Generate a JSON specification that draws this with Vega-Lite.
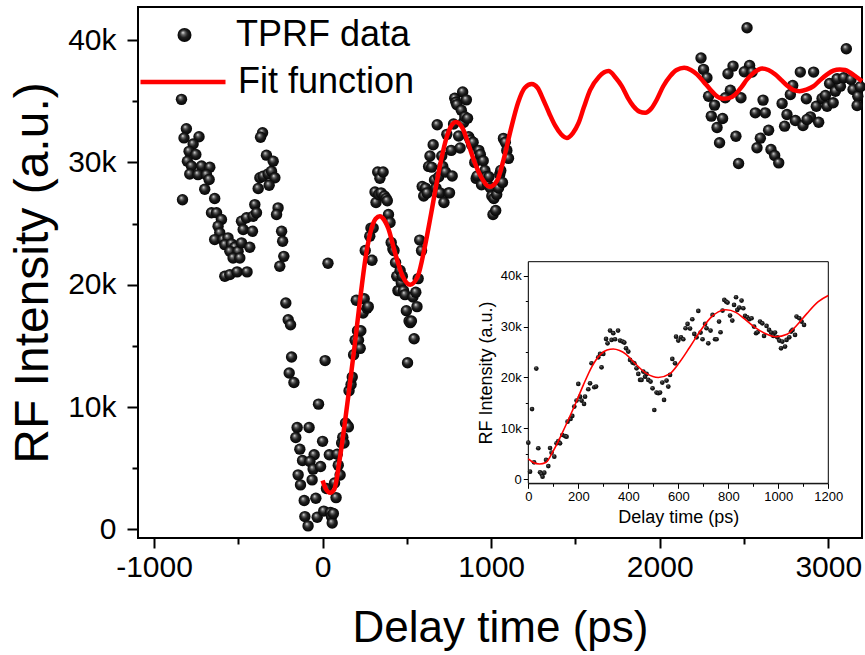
{
  "$schema": "https://vega.github.io/schema/vega-lite/v6.json",
  "width": 724,
  "height": 531,
  "autosize": "none",
  "padding": {"left": 138, "top": 7, "right": 3, "bottom": 117},
  "background": "white",
  "config": {
    "view": {"stroke": "black", "strokeWidth": 2, "fill": "white"},
    "font": "Liberation Sans",
    "axis": {"labelColor": "black", "titleColor": "black", "titleFontWeight": "normal", "labelFont": "Liberation Sans", "titleFont": "Liberation Sans", "grid": false, "tickColor": "black", "domainColor": "black"},
    "legend": {"labelFont": "Liberation Sans", "labelColor": "black", "labelFontSize": 36, "labelLimit": 400, "padding": 0, "orient": "none"}
  },
  "datasets": {
    "tprf": [
      {"x": -837, "y": 35150}, {"x": -808, "y": 32750}, {"x": -822, "y": 32000}, {"x": -733, "y": 32100}, {"x": -768, "y": 31500},
      {"x": -792, "y": 30900}, {"x": -752, "y": 30650}, {"x": -802, "y": 30100}, {"x": -778, "y": 29700}, {"x": -718, "y": 29700},
      {"x": -669, "y": 29600}, {"x": -788, "y": 29050}, {"x": -739, "y": 29000}, {"x": -689, "y": 29000}, {"x": -673, "y": 28600},
      {"x": -699, "y": 27800}, {"x": -831, "y": 26950}, {"x": -640, "y": 27050}, {"x": -659, "y": 25880}, {"x": -629, "y": 25880},
      {"x": -600, "y": 25330}, {"x": -620, "y": 24780}, {"x": -610, "y": 24240}, {"x": -640, "y": 23690}, {"x": -590, "y": 23690},
      {"x": -561, "y": 23830}, {"x": -580, "y": 23280}, {"x": -540, "y": 23340}, {"x": -520, "y": 23060}, {"x": -550, "y": 22730},
      {"x": -501, "y": 22730}, {"x": -481, "y": 23420}, {"x": -432, "y": 23060}, {"x": -531, "y": 22190}, {"x": -491, "y": 22190},
      {"x": -580, "y": 20690}, {"x": -550, "y": 20830}, {"x": -507, "y": 21050}, {"x": -448, "y": 21050}, {"x": -481, "y": 25190},
      {"x": -451, "y": 25470}, {"x": -412, "y": 25600}, {"x": -471, "y": 24510}, {"x": -416, "y": 24370}, {"x": -402, "y": 26550},
      {"x": -392, "y": 25880}, {"x": -382, "y": 27870}, {"x": -372, "y": 28740}, {"x": -353, "y": 28870}, {"x": -323, "y": 29060},
      {"x": -303, "y": 29280}, {"x": -283, "y": 28740}, {"x": -317, "y": 28130}, {"x": -333, "y": 30590}, {"x": -293, "y": 30100},
      {"x": -356, "y": 32420}, {"x": -368, "y": 32060}, {"x": -264, "y": 26280}, {"x": -273, "y": 25740}, {"x": -243, "y": 24370},
      {"x": -237, "y": 23550}, {"x": -230, "y": 22320}, {"x": -254, "y": 21510}, {"x": -218, "y": 18510}, {"x": -204, "y": 17140},
      {"x": -190, "y": 16730}, {"x": -184, "y": 14090}, {"x": -198, "y": 12780}, {"x": -170, "y": 12010}, {"x": -24, "y": 10240},
      {"x": -151, "y": 8330}, {"x": -80, "y": 8330}, {"x": -159, "y": 7510}, {"x": -135, "y": 6560}, {"x": -50, "y": 6100},
      {"x": -119, "y": 5630}, {"x": -75, "y": 5550}, {"x": -56, "y": 4930}, {"x": -12, "y": 5140}, {"x": -145, "y": 4460},
      {"x": -131, "y": 3640}, {"x": -62, "y": 4050}, {"x": -109, "y": 2360}, {"x": -40, "y": 2550}, {"x": -105, "y": 1050},
      {"x": -86, "y": 290}, {"x": -32, "y": 1000},
      {"x": 0, "y": 7200}, {"x": 7, "y": 1500}, {"x": 15, "y": 13800}, {"x": 32, "y": 21750}, {"x": 40, "y": 6100},
      {"x": 23, "y": 3340}, {"x": 47, "y": 1380}, {"x": 53, "y": 1050}, {"x": 57, "y": 520}, {"x": 64, "y": 1300},
      {"x": 71, "y": 3800}, {"x": 80, "y": 2600}, {"x": 87, "y": 6150}, {"x": 93, "y": 5240}, {"x": 104, "y": 4450},
      {"x": 113, "y": 7070}, {"x": 120, "y": 7530}, {"x": 127, "y": 7070}, {"x": 136, "y": 8700}, {"x": 147, "y": 8500},
      {"x": 153, "y": 8380}, {"x": 157, "y": 11330}, {"x": 169, "y": 11850}, {"x": 176, "y": 12450}, {"x": 184, "y": 14280},
      {"x": 193, "y": 15460}, {"x": 200, "y": 18730}, {"x": 207, "y": 16240}, {"x": 213, "y": 15460}, {"x": 223, "y": 14800},
      {"x": 227, "y": 16240}, {"x": 240, "y": 17690}, {"x": 247, "y": 18860}, {"x": 253, "y": 22800}, {"x": 264, "y": 18080},
      {"x": 271, "y": 18210}, {"x": 280, "y": 23970}, {"x": 287, "y": 24630}, {"x": 293, "y": 22000}, {"x": 300, "y": 24630},
      {"x": 311, "y": 27580}, {"x": 317, "y": 26720}, {"x": 327, "y": 29210}, {"x": 333, "y": 27380}, {"x": 340, "y": 28700},
      {"x": 347, "y": 27510}, {"x": 359, "y": 29210}, {"x": 367, "y": 27250}, {"x": 377, "y": 27050}, {"x": 384, "y": 26860},
      {"x": 391, "y": 25740}, {"x": 400, "y": 25090}, {"x": 407, "y": 23450}, {"x": 417, "y": 22930}, {"x": 424, "y": 22790},
      {"x": 433, "y": 21810}, {"x": 440, "y": 20700}, {"x": 447, "y": 19520}, {"x": 453, "y": 19520}, {"x": 460, "y": 21160},
      {"x": 467, "y": 20170}, {"x": 473, "y": 20700}, {"x": 480, "y": 19520}, {"x": 489, "y": 19190}, {"x": 497, "y": 17880},
      {"x": 504, "y": 13620}, {"x": 513, "y": 17030}, {"x": 520, "y": 16900}, {"x": 527, "y": 17030}, {"x": 536, "y": 19000},
      {"x": 543, "y": 15590}, {"x": 553, "y": 19390}, {"x": 560, "y": 18210}, {"x": 567, "y": 20500}, {"x": 576, "y": 23650},
      {"x": 587, "y": 22790}, {"x": 591, "y": 28030}, {"x": 600, "y": 27250}, {"x": 611, "y": 27900}, {"x": 620, "y": 27510},
      {"x": 629, "y": 29670}, {"x": 637, "y": 30520}, {"x": 647, "y": 29610}, {"x": 656, "y": 31440}, {"x": 664, "y": 28560},
      {"x": 673, "y": 27900}, {"x": 680, "y": 33080}, {"x": 689, "y": 28820}, {"x": 697, "y": 27510}, {"x": 707, "y": 30520},
      {"x": 713, "y": 29670}, {"x": 720, "y": 26720}, {"x": 729, "y": 29210}, {"x": 737, "y": 32290}, {"x": 747, "y": 27510},
      {"x": 753, "y": 27510}, {"x": 763, "y": 30980}, {"x": 769, "y": 28890}, {"x": 777, "y": 33140}, {"x": 784, "y": 35240},
      {"x": 791, "y": 34910}, {"x": 797, "y": 34720}, {"x": 807, "y": 32160}, {"x": 816, "y": 31180}, {"x": 823, "y": 34260},
      {"x": 831, "y": 35760}, {"x": 836, "y": 33270}, {"x": 844, "y": 33730}, {"x": 853, "y": 35110}, {"x": 860, "y": 33600},
      {"x": 867, "y": 32100}, {"x": 876, "y": 31830}, {"x": 884, "y": 31440}, {"x": 893, "y": 31640}, {"x": 903, "y": 30000},
      {"x": 911, "y": 28690}, {"x": 917, "y": 28890}, {"x": 927, "y": 30980}, {"x": 936, "y": 30650}, {"x": 943, "y": 28170},
      {"x": 953, "y": 30130}, {"x": 963, "y": 29340}, {"x": 971, "y": 28820}, {"x": 980, "y": 28170}, {"x": 987, "y": 28820},
      {"x": 996, "y": 27900}, {"x": 1004, "y": 27250}, {"x": 1011, "y": 25740}, {"x": 1016, "y": 27050}, {"x": 1027, "y": 26070},
      {"x": 1033, "y": 27380}, {"x": 1044, "y": 27900}, {"x": 1051, "y": 29020}, {"x": 1057, "y": 29340}, {"x": 1067, "y": 28360},
      {"x": 1073, "y": 31960}, {"x": 1084, "y": 31640}, {"x": 1093, "y": 30980}, {"x": 1103, "y": 30330},
      {"x": 2518, "y": 41000}, {"x": 2245, "y": 38530}, {"x": 2260, "y": 37600}, {"x": 2280, "y": 36920}, {"x": 2435, "y": 37870},
      {"x": 2405, "y": 37250}, {"x": 2533, "y": 37920}, {"x": 2502, "y": 37410}, {"x": 2548, "y": 37380}, {"x": 2419, "y": 35900},
      {"x": 2389, "y": 35280}, {"x": 2290, "y": 35410}, {"x": 2325, "y": 34680}, {"x": 2482, "y": 35280}, {"x": 2306, "y": 33780},
      {"x": 2373, "y": 33590}, {"x": 2340, "y": 32850}, {"x": 2355, "y": 31600}, {"x": 2452, "y": 32140}, {"x": 2468, "y": 29910},
      {"x": 2613, "y": 35090}, {"x": 2567, "y": 34050}, {"x": 2626, "y": 34050}, {"x": 2646, "y": 32630}, {"x": 2597, "y": 31980},
      {"x": 2577, "y": 31190}, {"x": 2660, "y": 31050}, {"x": 2682, "y": 30560}, {"x": 2706, "y": 29960}, {"x": 2726, "y": 34810},
      {"x": 2789, "y": 36290}, {"x": 2775, "y": 35550}, {"x": 2755, "y": 33910}, {"x": 2741, "y": 32960}, {"x": 2805, "y": 33420},
      {"x": 2850, "y": 33010}, {"x": 2894, "y": 33720}, {"x": 2874, "y": 33510}, {"x": 2943, "y": 33280}, {"x": 2834, "y": 37380},
      {"x": 2913, "y": 37380}, {"x": 2870, "y": 35200}, {"x": 2929, "y": 34590}, {"x": 2963, "y": 35220}, {"x": 2983, "y": 35470},
      {"x": 2993, "y": 34590}, {"x": 3029, "y": 34870}, {"x": 3008, "y": 36450}, {"x": 3042, "y": 35820}, {"x": 3072, "y": 36230},
      {"x": 3052, "y": 36830}, {"x": 3092, "y": 36920}, {"x": 3107, "y": 39290}, {"x": 3135, "y": 36780}, {"x": 3147, "y": 35960},
      {"x": 3175, "y": 35410}, {"x": 3171, "y": 34650}, {"x": 3190, "y": 36180}
    ],
    "fit": [
      {"x": 0, "y": 4000}, {"x": 20, "y": 3300}, {"x": 45, "y": 3000}, {"x": 70, "y": 3300}, {"x": 100, "y": 5600},
      {"x": 130, "y": 8500}, {"x": 160, "y": 11700}, {"x": 190, "y": 15000}, {"x": 220, "y": 18500}, {"x": 255, "y": 22200},
      {"x": 290, "y": 24600}, {"x": 315, "y": 25400}, {"x": 340, "y": 25600}, {"x": 365, "y": 25300}, {"x": 390, "y": 24600},
      {"x": 430, "y": 22600}, {"x": 475, "y": 20700}, {"x": 520, "y": 20000}, {"x": 565, "y": 20700}, {"x": 605, "y": 23000},
      {"x": 645, "y": 25900}, {"x": 690, "y": 29300}, {"x": 735, "y": 32000}, {"x": 760, "y": 32900}, {"x": 790, "y": 33300},
      {"x": 830, "y": 32800}, {"x": 865, "y": 31500}, {"x": 905, "y": 29900}, {"x": 945, "y": 28700}, {"x": 990, "y": 28000},
      {"x": 1035, "y": 28500}, {"x": 1075, "y": 30300}, {"x": 1115, "y": 32600}, {"x": 1160, "y": 34900}, {"x": 1200, "y": 36100},
      {"x": 1241, "y": 36400}, {"x": 1275, "y": 36100}, {"x": 1310, "y": 35100}, {"x": 1345, "y": 34000}, {"x": 1380, "y": 33000},
      {"x": 1415, "y": 32300}, {"x": 1449, "y": 32000}, {"x": 1485, "y": 32400}, {"x": 1518, "y": 33200}, {"x": 1550, "y": 34500},
      {"x": 1587, "y": 35900}, {"x": 1640, "y": 37000}, {"x": 1696, "y": 37460}, {"x": 1740, "y": 36900}, {"x": 1775, "y": 36230},
      {"x": 1810, "y": 35300}, {"x": 1844, "y": 34590}, {"x": 1880, "y": 34150}, {"x": 1914, "y": 34050}, {"x": 1950, "y": 34400},
      {"x": 1983, "y": 35140}, {"x": 2020, "y": 36200}, {"x": 2062, "y": 37050}, {"x": 2100, "y": 37550}, {"x": 2145, "y": 37730},
      {"x": 2185, "y": 37550}, {"x": 2221, "y": 37190}, {"x": 2260, "y": 36600}, {"x": 2300, "y": 35960}, {"x": 2340, "y": 35400},
      {"x": 2375, "y": 35200}, {"x": 2410, "y": 35250}, {"x": 2448, "y": 35550}, {"x": 2485, "y": 36150}, {"x": 2518, "y": 36780},
      {"x": 2560, "y": 37350}, {"x": 2607, "y": 37680}, {"x": 2645, "y": 37550}, {"x": 2686, "y": 37190}, {"x": 2720, "y": 36750},
      {"x": 2755, "y": 36290}, {"x": 2795, "y": 35900}, {"x": 2830, "y": 35820}, {"x": 2870, "y": 35950}, {"x": 2913, "y": 36230},
      {"x": 2950, "y": 36700}, {"x": 2993, "y": 37190}, {"x": 3030, "y": 37500}, {"x": 3068, "y": 37600}, {"x": 3100, "y": 37550},
      {"x": 3131, "y": 37330}, {"x": 3165, "y": 37000}, {"x": 3200, "y": 36640}
    ]
  },
  "layer": [
    {
      "layer": [
        {
          "data": {"name": "tprf"},
          "mark": {
            "type": "point", "filled": true, "opacity": 1, "size": 130, "strokeWidth": 0,
            "fill": {"gradient": "radial", "x1": 0.38, "y1": 0.32, "r1": 0.02, "x2": 0.5, "y2": 0.5, "r2": 0.55,
              "stops": [{"offset": 0, "color": "#d8d8d8"}, {"offset": 0.22, "color": "#666666"}, {"offset": 0.5, "color": "#1e1e1e"}, {"offset": 1, "color": "#000000"}]}
          },
          "encoding": {
            "x": {"field": "x", "type": "quantitative", "title": "Delay time (ps)",
              "scale": {"domain": [-1095, 3200], "nice": false, "zero": false},
              "axis": {"orient": "bottom", "domain": false,
                "values": [-1000, -500, 0, 500, 1000, 1500, 2000, 2500, 3000],
                "labelExpr": "datum.value % 1000 === 0 ? '' + datum.value : ''",
                "tickSize": {"condition": {"test": "datum.value % 1000 === 0", "value": 10}, "value": 6},
                "tickWidth": 2, "labelFontSize": 30, "labelPadding": 4, "labelFlush": false, "labelOverlap": false,
                "titleFontSize": 44, "titlePadding": 24}},
            "y": {"field": "y", "type": "quantitative", "title": "RF Intensity (a.u.)",
              "scale": {"domain": [-700, 42700], "nice": false, "zero": false},
              "axis": {"orient": "left", "domain": false,
                "values": [0, 5000, 10000, 15000, 20000, 25000, 30000, 35000, 40000],
                "labelExpr": "datum.value % 10000 === 0 ? (datum.value === 0 ? '0' : (datum.value / 1000) + 'k') : ''",
                "tickSize": {"condition": {"test": "datum.value % 10000 === 0", "value": 11}, "value": 6},
                "tickWidth": 2, "labelFontSize": 30, "labelPadding": 11, "labelOverlap": false,
                "titleFontSize": 48, "titlePadding": 10}},
            "shape": {"datum": "TPRF data", "type": "nominal",
              "scale": {"domain": ["TPRF data"], "range": ["circle"]},
              "legend": {"legendX": 5, "legendY": 10, "title": null,
                "symbolSize": 196, "symbolFillColor": "#111111", "symbolStrokeWidth": 0, "symbolOpacity": 1,
                "symbolOffset": 23.5, "labelOffset": 33.5}}
          }
        },
        {
          "data": {"name": "fit"},
          "mark": {"type": "line", "strokeWidth": 4.5, "interpolate": "monotone"},
          "encoding": {
            "x": {"field": "x", "type": "quantitative", "title": "Delay time (ps)"},
            "y": {"field": "y", "type": "quantitative", "title": "RF Intensity (a.u.)"},
            "stroke": {"datum": "Fit function", "type": "nominal",
              "scale": {"domain": ["Fit function"], "range": ["#ff0000"]},
              "legend": {"legendX": 0, "legendY": 30, "title": null,
                "symbolType": "stroke", "symbolSize": 7225, "symbolStrokeWidth": 4.5, "labelOffset": 10}}
          }
        }
      ]
    },
    {
      "layer": [
        {
          "data": {"values": [{}]},
          "mark": {"type": "rect", "fill": "white", "stroke": "black", "strokeWidth": 1},
          "encoding": {
            "x": {"datum": 0, "type": "quantitative",
              "scale": {"domain": [0, 1200], "range": [390.3, 690.3], "nice": false, "zero": false},
              "axis": {"orient": "bottom", "offset": -54.7, "domain": true, "domainWidth": 1,
                "values": [0, 100, 200, 300, 400, 500, 600, 700, 800, 900, 1000, 1100, 1200],
                "labelExpr": "datum.value % 200 === 0 ? '' + datum.value : ''",
                "tickSize": {"condition": {"test": "datum.value % 200 === 0", "value": 5}, "value": 3},
                "tickWidth": 1, "labelFontSize": 13, "labelPadding": 2, "labelFlush": false, "labelOverlap": false,
                "title": "Delay time (ps)", "titleFontSize": 18, "titlePadding": 5}},
            "x2": {"datum": 1200},
            "y": {"datum": -786, "type": "quantitative",
              "scale": {"domain": [-786, 42750], "range": [476.3, 254.7], "nice": false, "zero": false},
              "axis": {"orient": "left", "offset": -390.3, "domain": true, "domainWidth": 1,
                "values": [0, 5000, 10000, 15000, 20000, 25000, 30000, 35000, 40000],
                "labelExpr": "datum.value % 10000 === 0 ? (datum.value === 0 ? '0' : (datum.value / 1000) + 'k') : ''",
                "tickSize": {"condition": {"test": "datum.value % 10000 === 0", "value": 5}, "value": 3},
                "tickWidth": 1, "labelFontSize": 13, "labelPadding": 2, "labelOverlap": false,
                "title": "RF Intensity (a.u.)", "titleFontSize": 18, "titlePadding": 5}},
            "y2": {"datum": 42750}
          }
        },
        {
          "data": {"name": "tprf"},
          "transform": [{"filter": "datum.x >= 0 && datum.x <= 1200"}],
          "mark": {
            "type": "point", "shape": "circle", "filled": true, "opacity": 1, "size": 22, "strokeWidth": 0,
            "fill": {"gradient": "radial", "x1": 0.38, "y1": 0.32, "r1": 0.02, "x2": 0.5, "y2": 0.5, "r2": 0.55,
              "stops": [{"offset": 0, "color": "#a0a0a0"}, {"offset": 0.3, "color": "#2a2a2a"}, {"offset": 1, "color": "#000000"}]}
          },
          "encoding": {
            "x": {"field": "x", "type": "quantitative", "title": "Delay time (ps)"},
            "y": {"field": "y", "type": "quantitative", "title": "RF Intensity (a.u.)"}
          }
        },
        {
          "data": {"name": "fit"},
          "transform": [{"filter": "datum.x <= 1200"}],
          "mark": {"type": "line", "stroke": "#ff0000", "strokeWidth": 1.6, "interpolate": "monotone"},
          "encoding": {
            "x": {"field": "x", "type": "quantitative", "title": "Delay time (ps)"},
            "y": {"field": "y", "type": "quantitative", "title": "RF Intensity (a.u.)"}
          }
        }
      ]
    }
  ],
  "resolve": {"scale": {"x": "independent", "y": "independent", "stroke": "independent", "shape": "independent"}}
}
